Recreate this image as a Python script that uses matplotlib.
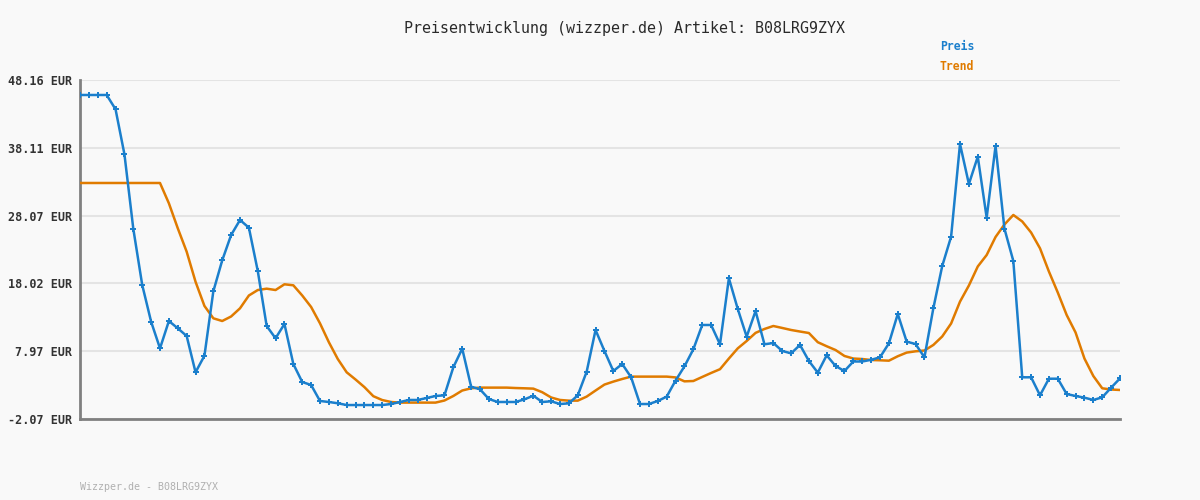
import matplotlib
matplotlib.use("Agg")
import matplotlib.pyplot as plt

# Preis (blue), one value per point
preis = [45.94, 45.94, 45.94, 45.94, 43.82, 37.15, 26.08, 17.79, 12.35, 8.40,
         12.45, 11.37, 10.23, 4.85, 7.31, 16.85, 21.44, 25.19, 27.42, 26.28,
         19.86, 11.71, 9.89, 12.01, 6.08, 3.41, 2.97, 0.60, 0.45, 0.26,
         0.00, 0.00, 0.00, 0.00, 0.00, 0.15, 0.45, 0.75, 0.75, 1.04,
         1.34, 1.44, 5.60, 8.35, 2.72, 2.33, 0.89, 0.45, 0.45, 0.45,
         0.84, 1.38, 0.45, 0.55, 0.15, 0.25, 1.44, 4.94, 11.12, 8.01,
         5.04, 6.08, 4.11, 0.15, 0.15, 0.60, 1.24, 3.62, 5.73, 8.26,
         11.86, 11.86, 9.00, 18.78, 14.23, 10.13, 13.93, 9.00, 9.19, 8.01,
         7.66, 8.90, 6.53, 4.80, 7.37, 5.78, 5.04, 6.45, 6.45, 6.70,
         7.07, 9.14, 13.49, 9.39, 9.04, 7.07, 14.33, 20.60, 24.95, 38.68,
         32.75, 36.80, 27.76, 38.38, 26.13, 21.34, 4.11, 4.11, 1.44, 3.90,
         3.90, 1.63, 1.34, 1.09, 0.75, 1.14, 2.57, 3.95]

# Trend (orange)
trend = [32.90, 32.90, 32.90, 32.90, 32.90, 32.90, 32.90, 32.90, 32.90, 32.90,
         29.89, 26.19, 22.72, 18.26, 14.68, 12.85, 12.45, 13.12, 14.33, 16.23,
         17.04, 17.24, 17.04, 17.89, 17.74, 16.23, 14.53, 12.10, 9.30, 6.82,
         4.85, 3.78, 2.65, 1.31, 0.74, 0.45, 0.36, 0.36, 0.36, 0.36,
         0.36, 0.67, 1.34, 2.15, 2.48, 2.58, 2.58, 2.58, 2.58, 2.52,
         2.48, 2.43, 1.90, 1.12, 0.75, 0.65, 0.65, 1.25, 2.15, 3.03,
         3.47, 3.86, 4.21, 4.21, 4.21, 4.21, 4.21, 4.09, 3.51, 3.56,
         4.16, 4.75, 5.31, 6.89, 8.40, 9.49, 10.69, 11.27, 11.71, 11.42,
         11.12, 10.89, 10.67, 9.31, 8.71, 8.15, 7.27, 6.89, 6.82, 6.67,
         6.63, 6.57, 7.23, 7.77, 7.96, 8.08, 8.90, 10.16, 12.08, 15.32,
         17.71, 20.53, 22.23, 24.90, 26.75, 28.16, 27.20, 25.56, 23.22, 19.79,
         16.67, 13.34, 10.75, 6.89, 4.30, 2.48, 2.30, 2.23]

yticks = [-2.07, 7.97, 18.02, 28.07, 38.11, 48.16]
ytick_labels = [f"{v:.2f} EUR" for v in yticks]

blue = "#1b7fcc"
orange = "#e07b00"
bg = "#f9f9f9"

fig = plt.figure(figsize=(12, 5), dpi=100, facecolor=bg)
ax = fig.add_axes([80 / 1200, 81 / 500, 1040 / 1200, 339 / 500])
ax.set_facecolor(bg)

x = list(range(len(preis)))
ax.plot(x, trend, color=orange, lw=1.8, zorder=3)
ax.plot(x, preis, color=blue, lw=1.8, marker="P", markersize=3.8,
        markeredgewidth=0, zorder=4)

ax.set_xlim(0, len(preis) - 1)
ax.set_ylim(yticks[0], yticks[-1])
ax.set_yticks(yticks)
ax.set_yticklabels(ytick_labels, family="DejaVu Sans Mono", fontsize=8.5,
                   fontweight="bold", color="#333333")
ax.set_xticks([])
ax.tick_params(axis="y", length=0, pad=6)
ax.grid(axis="y", color="#e4e4e4", lw=1.5, zorder=0)

for side in ["top", "right"]:
    ax.spines[side].set_visible(False)
for side in ["left", "bottom"]:
    ax.spines[side].set_color("#808080")
    ax.spines[side].set_linewidth(2)

fig.text(624 / 1200, 1 - 28 / 500, "Preisentwicklung (wizzper.de) Artikel: B08LRG9ZYX",
         ha="center", va="center", family="DejaVu Sans Mono", fontsize=10.8,
         color="#2a2a2a")
fig.text(940 / 1200, 1 - 47 / 500, "Preis", ha="left", va="center",
         family="DejaVu Sans Mono", fontsize=8.3, fontweight="bold", color=blue)
fig.text(940 / 1200, 1 - 67 / 500, "Trend", ha="left", va="center",
         family="DejaVu Sans Mono", fontsize=8.3, fontweight="bold", color=orange)
fig.text(80 / 1200, 1 - 487 / 500, "Wizzper.de - B08LRG9ZYX", ha="left", va="center",
         family="DejaVu Sans Mono", fontsize=7.2, color="#b0b0b0")

fig.savefig("out.png", dpi=100, facecolor=bg)
